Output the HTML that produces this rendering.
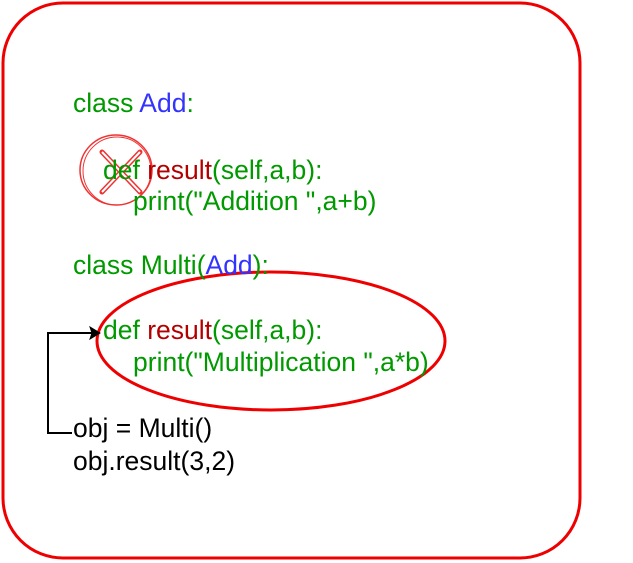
<!DOCTYPE html>
<html><head><style>
body{margin:0;width:633px;height:563px;background:#fff;position:relative;overflow:hidden;font-family:"Liberation Sans",sans-serif;font-size:26.5px}
.l{position:absolute;white-space:pre;line-height:30px}
.g{color:#009900}.b{color:#3333ff}.r{color:#b20000}.k{color:#000}
</style></head><body>
<svg width="633" height="563" style="position:absolute;left:0;top:0">
<rect x="3" y="3" width="577" height="555" rx="60" ry="60" fill="none" stroke="#ee0000" stroke-width="3"/>
<ellipse cx="116" cy="170" rx="36" ry="35" fill="none" stroke="#ee3333" stroke-width="1.5"/>
<ellipse cx="117" cy="171" rx="34" ry="34" fill="none" stroke="#ee3333" stroke-width="1"/>
<path d="M102 152 L140 192 M140 152 L102 192" stroke="#ee3333" stroke-width="5" fill="none" stroke-linecap="round"/>
<path d="M102 152 L140 192 M140 152 L102 192" stroke="#fff" stroke-width="2" fill="none"/>
<ellipse cx="271" cy="341" rx="174" ry="69" fill="none" stroke="#ee0000" stroke-width="3"/>
<path d="M72 433 H48 V333 H92" stroke="#000" stroke-width="2" fill="none"/>
<path d="M100 333 L90 327 L92 333 L90 339 Z" fill="#000" stroke="#000" stroke-width="1"/>
</svg>
<div class="l g" style="left:73px;top:88px">class <span class="b">Add</span>:</div>
<div class="l g" style="left:103px;top:155px">def <span class="r">result</span>(self,a,b):</div>
<div class="l g" style="left:133px;top:186px">print("Addition ",a+b)</div>
<div class="l g" style="left:73px;top:250px">class Multi(<span class="b">Add</span>):</div>
<div class="l g" style="left:103px;top:315px">def <span class="r">result</span>(self,a,b):</div>
<div class="l g" style="left:133px;top:347px">print("Multiplication ",a*b)</div>
<div class="l k" style="left:73px;top:413px">obj = Multi()</div>
<div class="l k" style="left:73px;top:446px">obj.result(3,2)</div>
</body></html>
